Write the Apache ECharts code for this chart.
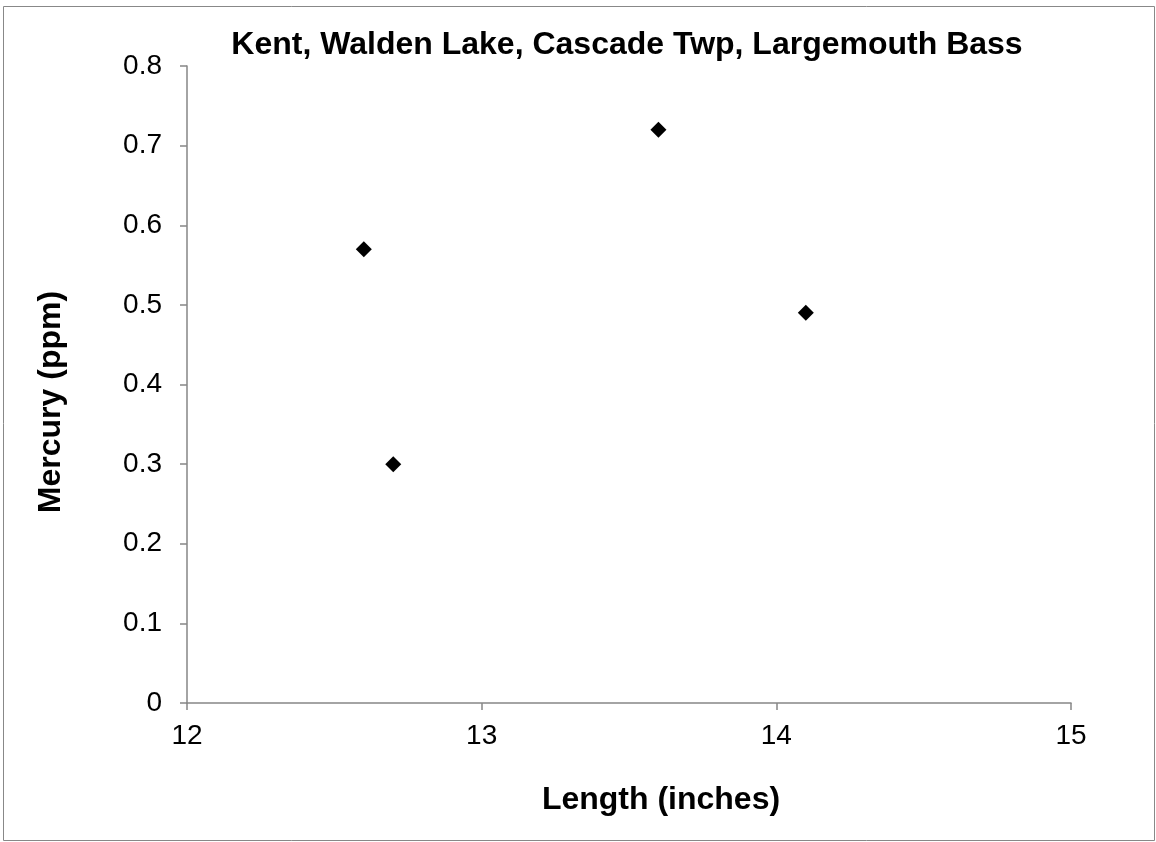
<!DOCTYPE html>
<html>
<head>
<meta charset="utf-8">
<script src="https://cdn.jsdelivr.net/npm/echarts@6/dist/echarts.min.js"></script>
<style>
html,body{margin:0;padding:0;background:#fff;}
#chart{width:1156px;height:842px;}
</style>
</head>
<body>
<div id="chart"></div>
<script>
var titleText = "Kent, Walden Lake, Cascade Twp, Largemouth Bass";
var xName = "Length (inches)";
var yName = "Mercury (ppm)";
var lengths = [12.6, 12.7, 13.6, 14.1];
var mercury = [0.57, 0.30, 0.72, 0.49];

var pts = lengths.map(function (l, i) { return [l, mercury[i]]; });
var chart = echarts.init(document.getElementById('chart'));
var font = "'Liberation Sans', Arial, sans-serif";
chart.setOption({
  animation: false,
  backgroundColor: '#ffffff',
  grid: { left: 187, right: 85, top: 66, bottom: 139, containLabel: false },
  xAxis: {
    type: 'value', min: 12, max: 15, interval: 1,
    axisLine: { show: true, lineStyle: { color: '#868686', width: 1.5 } },
    axisTick: { show: true, length: 7, lineStyle: { color: '#868686', width: 1.5 } },
    axisLabel: { fontFamily: font, fontSize: 28, color: '#000', margin: 19 },
    splitLine: { show: false }
  },
  yAxis: {
    type: 'value', min: 0, max: 0.8, interval: 0.1,
    axisLine: { show: true, lineStyle: { color: '#868686', width: 1.5 } },
    axisTick: { show: true, length: 7, lineStyle: { color: '#868686', width: 1.5 } },
    axisLabel: { fontFamily: font, fontSize: 28, color: '#000', margin: 25,
      formatter: function (v) { return v === 0 ? '0' : v.toFixed(1); } },
    splitLine: { show: false }
  },
  graphic: [
    { type: 'rect', shape: { x: 3.5, y: 6.5, width: 1151, height: 834 },
      style: { fill: 'none', stroke: '#888888', lineWidth: 1 }, silent: true, z: -1 },
    { type: 'text', x: 627, y: 45,
      style: { text: titleText, fontFamily: font, fontSize: 32, fontWeight: 'bold', fill: '#000',
        align: 'center', verticalAlign: 'middle' } },
    { type: 'text', x: 661, y: 800,
      style: { text: xName, fontFamily: font, fontSize: 32, fontWeight: 'bold', fill: '#000',
        align: 'center', verticalAlign: 'middle' } },
    { type: 'text', x: 51, y: 402, rotation: Math.PI / 2,
      style: { text: yName, fontFamily: font, fontSize: 32, fontWeight: 'bold', fill: '#000',
        align: 'center', verticalAlign: 'middle' } }
  ],
  series: [{
    type: 'scatter',
    data: pts,
    symbol: 'diamond',
    symbolSize: 16,
    itemStyle: { color: '#000', opacity: 1 }
  }]
});
</script>
</body>
</html>
